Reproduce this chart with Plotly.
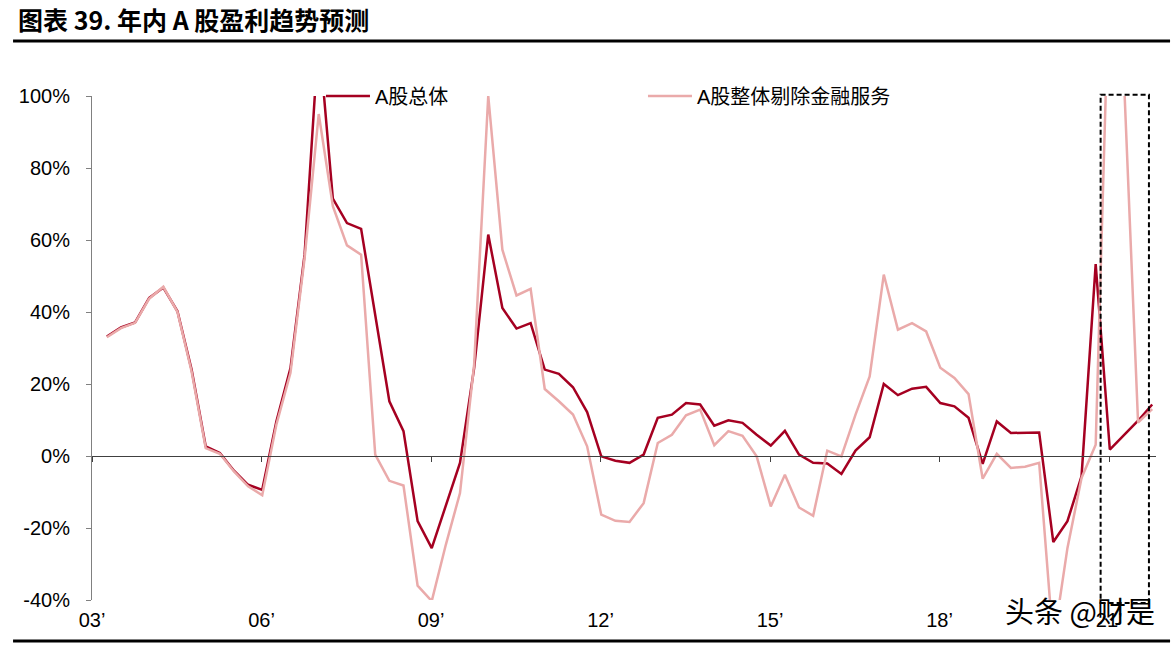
import plotly.graph_objects as go

# Quarterly observations, 2003Q1 .. 2021Q3
years = list(range(2003, 2022))
quarters = [f"{y}Q{q}" for y in years for q in (1, 2, 3, 4)][:75]

a_total = [33.2, 35.7, 37.1, 43.9, 46.8, 40.2, 24.0, 2.7, 0.8, -4.1,
           -8.0, -9.4, 9.6, 24.4, 56.0, 117.0, 71.5, 64.7, 63.1, 39.0,
           15.2, 6.9, -18.1, -25.6, -14.0, -1.9, 24.4, 61.5, 41.1, 35.4,
           36.9, 24.0, 22.8, 19.1, 12.2, -0.1, -1.3, -1.9, 0.4, 10.6,
           11.5, 14.7, 14.3, 8.4, 9.9, 9.2, 5.9, 2.9, 7.0, 0.4,
           -1.9, -2.1, -5.0, 1.5, 5.2, 20.0, 16.9, 18.7, 19.2, 14.7,
           13.8, 10.6, -2.2, 9.6, 6.4, 6.5, 6.5, -23.9, -18.1, -5.6,
           53.3, 1.8, 5.7, 9.8, 14.3]

a_ex_fin = [33.0, 35.5, 37.0, 43.7, 47.0, 40.0, 23.5, 2.2, 0.6, -4.3,
            -8.4, -10.9, 8.7, 23.1, 55.0, 95.0, 69.4, 58.5, 55.9, 0.4,
            -6.9, -8.2, -36.0, -40.3, -24.6, -10.3, 25.4, 100.0, 57.3, 44.6,
            46.4, 18.6, 15.2, 11.5, 2.7, -16.3, -18.0, -18.3, -13.1, 3.6,
            5.9, 11.3, 12.9, 3.0, 6.9, 5.6, -0.1, -14.0, -5.2, -14.3,
            -16.6, 1.5, -0.1, 11.5, 22.1, 50.4, 35.1, 36.9, 34.6, 24.5,
            21.7, 17.2, -6.3, 0.6, -3.3, -3.0, -1.9, -52.0, -25.6, -6.1,
            3.1, 140.0, 105.0, 9.3, 13.0]

tick_labels = ["03’", "06’", "09’", "12’", "15’", "18’", "21’"]
tick_years = [2003, 2006, 2009, 2012, 2015, 2018, 2021]
y_ticks = [-40, -20, 0, 20, 40, 60, 80, 100]
y_tick_labels = ["-40%", "-20%", "0%", "20%", "40%", "60%", "80%", "100%"]

names = ["A股总体", "A股整体剔除金融服务"]
colors = ["#A50021", "#EAAAAA"]

xpos = list(range(len(quarters)))
tick_pos = [quarters.index(f"{y}Q1") - 1.05 for y in tick_years]
x_range = [-1.05, 74.27]
# forecast window (dashed box), in quarter positions
box_x = [70.35, 73.77]

FONT = "Liberation Sans, Noto Sans CJK SC, sans-serif"

fig = go.Figure()
fig.add_trace(go.Scatter(x=xpos, y=a_total, mode="lines", name=names[0],
                         line=dict(color=colors[0], width=2.5)))
fig.add_trace(go.Scatter(x=xpos, y=a_ex_fin, mode="lines", name=names[1],
                         line=dict(color=colors[1], width=2.5)))
# helper trace so the zero-line axis (x2) is drawn
fig.add_trace(go.Scatter(x=[xpos[0]], y=[None], xaxis="x2", mode="lines",
                         showlegend=False, hoverinfo="skip"))

fig.update_layout(
    width=1176, height=647,
    margin=dict(l=92, r=20, t=96, b=47),
    paper_bgcolor="white", plot_bgcolor="white",
    font=dict(family=FONT, size=20, color="black"),
    showlegend=True,
    legend=dict(orientation="h", x=0.2152, xanchor="left", y=1.0, yanchor="middle",
                bgcolor="rgba(0,0,0,0)", font=dict(size=20, color="black"),
                entrywidth=263, entrywidthmode="pixels", itemwidth=44),
    xaxis=dict(range=x_range, tickmode="array", tickvals=tick_pos, ticktext=tick_labels,
               showline=False, ticks="", showgrid=False, zeroline=False,
               ticklabelstandoff=6, tickfont=dict(size=20, color="black")),
    xaxis2=dict(overlaying="x", anchor="free", position=40 / 140, range=x_range,
                tickmode="array", tickvals=tick_pos, showticklabels=False,
                showline=True, linecolor="#404040", linewidth=1,
                ticks="outside", ticklen=5, tickcolor="#404040",
                showgrid=False, zeroline=False),
    yaxis=dict(range=[-40, 100], tickmode="array", tickvals=y_ticks, ticktext=y_tick_labels,
               showline=True, linecolor="#808080", linewidth=1,
               ticks="outside", ticklen=5, tickcolor="#808080",
               showgrid=False, zeroline=False, ticklabelstandoff=12,
               tickfont=dict(size=20, color="black")),
    title=dict(text="<b>图表 39. 年内 A 股盈利趋势预测</b>", x=18 / 1176, xanchor="left",
               y=1 - 21 / 647, yanchor="middle", xref="container", yref="container",
               font=dict(family="Noto Sans CJK SC, Liberation Sans", size=25, color="black")),
)

# header / footer rules
fig.add_shape(type="line", xref="paper", yref="paper", x0=-0.0742, x1=1.0132,
              y0=(600 - 41) / 504, y1=(600 - 41) / 504, line=dict(color="black", width=3))
fig.add_shape(type="line", xref="paper", yref="paper", x0=-0.0742, x1=1.0132,
              y0=(600 - 641) / 504, y1=(600 - 641) / 504, line=dict(color="black", width=3))
# dashed forecast box
fig.add_shape(type="rect", xref="x", yref="paper", x0=box_x[0], x1=box_x[1],
              y0=-0.006, y1=1.0026, line=dict(color="black", width=2, dash="5px,3px"),
              fillcolor="rgba(0,0,0,0)", layer="above")
# watermark
fig.add_annotation(text="头条 @财是", xref="paper", yref="paper",
                   x=(1080 - 92) / 1064, y=(600 - 610) / 504, xanchor="center", yanchor="middle",
                   showarrow=False,
                   font=dict(family="Noto Sans CJK SC", size=29, color="black"))

fig.write_html("out.html")
